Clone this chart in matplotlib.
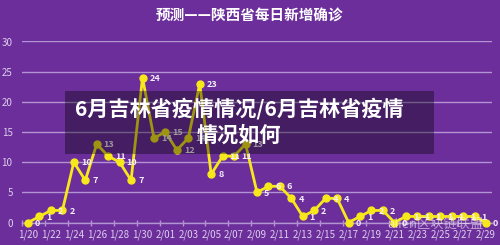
import matplotlib
matplotlib.use("Agg")
import matplotlib.pyplot as plt
from matplotlib.patches import Rectangle
from matplotlib.ticker import FixedLocator

plt.rcParams['font.family'] = ['Noto Sans CJK SC', 'DejaVu Sans']

dates = ["1/20", "1/21", "1/22", "1/23", "1/24", "1/25", "1/26", "1/27", "1/28", "1/29",
         "1/30", "1/31", "2/01", "2/02", "2/03", "2/04", "2/05", "2/06", "2/07", "2/08",
         "2/09", "2/10", "2/11", "2/12", "2/13", "2/14", "2/15", "2/16", "2/17", "2/18",
         "2/19", "2/20", "2/21", "2/22", "2/23", "2/24", "2/25", "2/26", "2/27", "2/28",
         "2/29"]
new_cases = [0, 1, 2, 2, 10, 7, 13, 11, 10, 7,
             24, 14, 15, 12, 14, 23, 8, 11, 11, 13,
             5, 6, 6, 4, 1, 2, 4, 4, 0, 1,
             2, 2, 0, 1, 1, 1, 1, 1, 1, 1,
             0]
y_ticks = [0, 5, 10, 15, 20, 25, 30]

title = "预测——陕西省每日新增确诊"
overlay_line1 = "6月吉林省疫情情况/6月吉林省疫情"
overlay_line2 = "情况如何"
watermark = "alien区块链联盟"

BG = "#6c2e9b"
GRID = "#b294d2"
LABEL = "#ddd0ec"
YELLOW = "#f7e81c"

W, H = 500, 245
fig = plt.figure(figsize=(5.0, 2.45), dpi=100, facecolor=BG)

left = 22.3 / W
right = 491.7 / W
bottom = (H - 222.5) / H
top = (H - 41.5) / H
ax = fig.add_axes([left, bottom, right - left, top - bottom])
ax.set_facecolor(BG)

x = list(range(len(dates)))
ax.plot(x, new_cases, color=YELLOW, lw=2.0, marker='o', markersize=5,
        markerfacecolor=YELLOW, markeredgecolor=YELLOW, clip_on=False, zorder=3)
for xi, v in zip(x, new_cases):
    ax.annotate(str(v), (xi, v), xytext=(5, -0.5), textcoords='offset points',
                ha='left', va='center', fontsize=6.5, fontweight='bold',
                color='#f4eefa', zorder=4, annotation_clip=False)

ax.set_xlim(-0.5, len(dates) - 0.5)
ax.set_ylim(0, 30)
ax.set_yticks(y_ticks)
ax.set_yticklabels([str(t) for t in y_ticks])
ax.yaxis.grid(True, color=GRID, lw=1.0)
ax.set_axisbelow(True)

label_pos = x[::2]
ax.xaxis.set_major_locator(FixedLocator(label_pos))
ax.set_xticklabels([dates[i] for i in label_pos])
ax.xaxis.set_minor_locator(FixedLocator([p - 0.5 for p in label_pos]))
ax.tick_params(axis='x', which='major', length=0, pad=5, labelsize=7, labelcolor=LABEL)
ax.tick_params(axis='x', which='minor', length=5, direction='inout', color=GRID, width=1)
ax.tick_params(axis='y', length=0, pad=7, labelsize=7, labelcolor=LABEL)

for s in ['top', 'right', 'left']:
    ax.spines[s].set_visible(False)
ax.spines['bottom'].set_color(GRID)
ax.spines['bottom'].set_linewidth(1.0)

fig.text(249.5 / W, 1 - 16 / H, title, ha='center', va='center',
         fontsize=10.5, fontweight='bold', color='white')

# overlay banner
fig.patches.append(Rectangle((65 / W, (H - 154) / H), 369 / W, 63 / H,
                             transform=fig.transFigure, facecolor='black',
                             alpha=0.36, edgecolor='none', zorder=5))
fig.text(239 / W, 1 - 109 / H, overlay_line1, ha='center', va='center',
         fontsize=15.2, fontweight='bold', color='white', zorder=6)
fig.text(239 / W, 1 - 135 / H, overlay_line2, ha='center', va='center',
         fontsize=15.2, fontweight='bold', color='white', zorder=6)

# watermark
fig.text(435 / W, 1 - 224 / H, watermark, ha='center', va='center',
         fontsize=9.5, color='white', alpha=0.55, zorder=6)

fig.savefig("out.png", dpi=100, facecolor=BG)
